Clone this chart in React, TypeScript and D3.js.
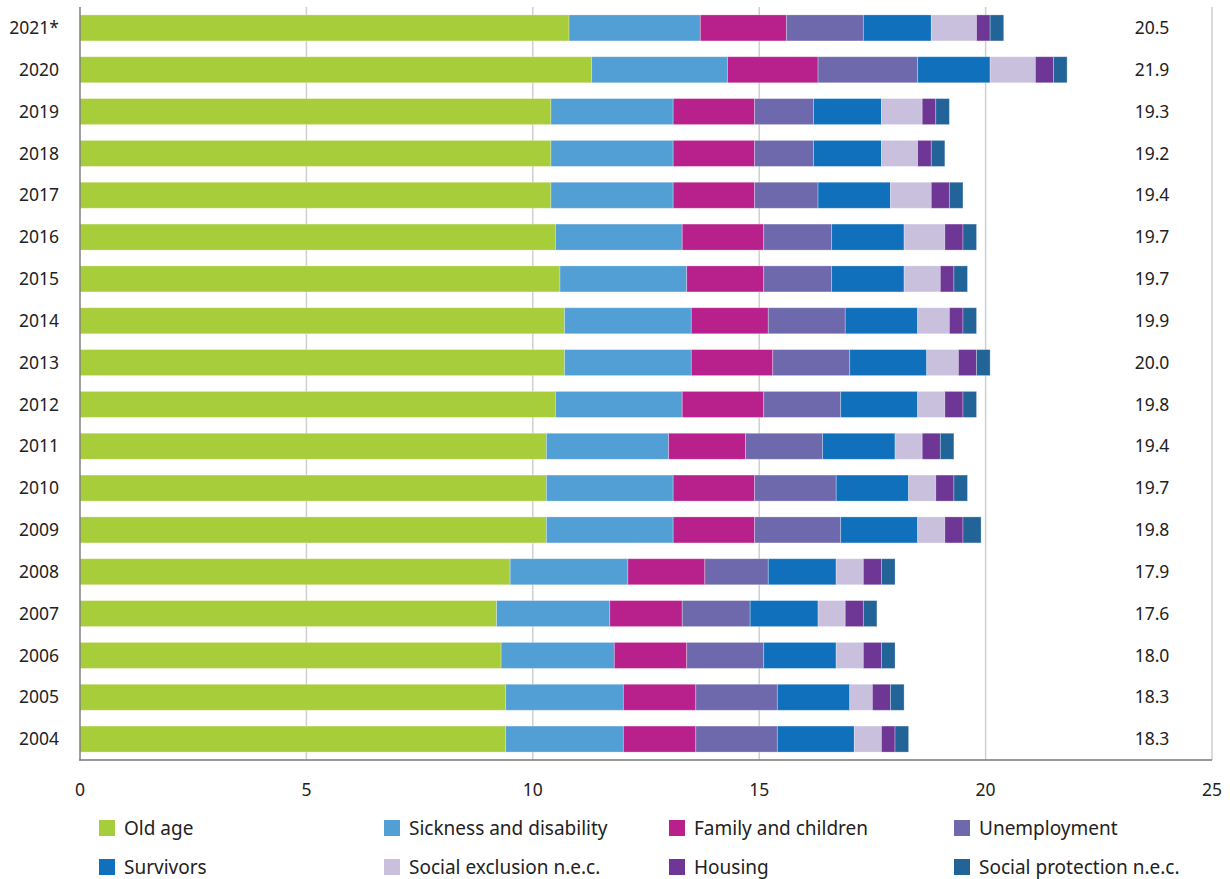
import React from "react";
import * as d3 from "d3";

const years = ["2021*", "2020", "2019", "2018", "2017", "2016", "2015", "2014", "2013", "2012", "2011", "2010", "2009", "2008", "2007", "2006", "2005", "2004"];
const totals = ["20.5", "21.9", "19.3", "19.2", "19.4", "19.7", "19.7", "19.9", "20.0", "19.8", "19.4", "19.7", "19.8", "17.9", "17.6", "18.0", "18.3", "18.3"];

const seriesNames = ["Old age", "Sickness and disability", "Family and children", "Unemployment", "Survivors", "Social exclusion n.e.c.", "Housing", "Social protection n.e.c."];
const seriesColors = ["#a8cd3a", "#529fd6", "#b8218c", "#6e69ad", "#1170bb", "#c9c0de", "#6e3795", "#236498"];

const oldAge = [10.8, 11.3, 10.4, 10.4, 10.4, 10.5, 10.6, 10.7, 10.7, 10.5, 10.3, 10.3, 10.3, 9.5, 9.2, 9.3, 9.4, 9.4];
const sickness = [2.9, 3.0, 2.7, 2.7, 2.7, 2.8, 2.8, 2.8, 2.8, 2.8, 2.7, 2.8, 2.8, 2.6, 2.5, 2.5, 2.6, 2.6];
const family = [1.9, 2.0, 1.8, 1.8, 1.8, 1.8, 1.7, 1.7, 1.8, 1.8, 1.7, 1.8, 1.8, 1.7, 1.6, 1.6, 1.6, 1.6];
const unemployment = [1.7, 2.2, 1.3, 1.3, 1.4, 1.5, 1.5, 1.7, 1.7, 1.7, 1.7, 1.8, 1.9, 1.4, 1.5, 1.7, 1.8, 1.8];
const survivors = [1.5, 1.6, 1.5, 1.5, 1.6, 1.6, 1.6, 1.6, 1.7, 1.7, 1.6, 1.6, 1.7, 1.5, 1.5, 1.6, 1.6, 1.7];
const socialExclusion = [1.0, 1.0, 0.9, 0.8, 0.9, 0.9, 0.8, 0.7, 0.7, 0.6, 0.6, 0.6, 0.6, 0.6, 0.6, 0.6, 0.5, 0.6];
const housing = [0.3, 0.4, 0.3, 0.3, 0.4, 0.4, 0.3, 0.3, 0.4, 0.4, 0.4, 0.4, 0.4, 0.4, 0.4, 0.4, 0.4, 0.3];
const socialProtection = [0.3, 0.3, 0.3, 0.3, 0.3, 0.3, 0.3, 0.3, 0.3, 0.3, 0.3, 0.3, 0.4, 0.3, 0.3, 0.3, 0.3, 0.3];

const xTicks = [0, 5, 10, 15, 20, 25];

const W = 1230;
const H = 879;
const FONT = "'Noto Sans', sans-serif";
const TEXT = "#222";

export default function App() {
  const seriesArrays = [oldAge, sickness, family, unemployment, survivors, socialExclusion, housing, socialProtection];
  const rows = years.map((y, i) => {
    const r: any = { year: y };
    seriesNames.forEach((s, k) => (r[s] = seriesArrays[k][i]));
    return r;
  });
  const stacked = d3.stack<any>().keys(seriesNames)(rows);

  const x = d3.scaleLinear().domain([0, 25]).range([80, 1212]);
  const y = d3.scaleBand<string>().domain(years).range([7, 760]).paddingInner(0.378).paddingOuter(0.189);

  const legendCols = [99, 384, 669, 954];
  const legendRows = [820, 859];

  return (
    <svg width={W} height={H} style={{ position: "absolute", left: 0, top: 0 }} fontFamily={FONT}>
      <rect width={W} height={H} fill="#fff" />
      {xTicks.slice(1).map((t) => (
        <line key={t} x1={x(t)} x2={x(t)} y1={7} y2={760} stroke="#cfcfcf" strokeWidth={1.5} />
      ))}
      {stacked.map((layer, k) => (
        <g key={layer.key} fill={seriesColors[k]}>
          {layer.map((d, i) => (
            <rect
              key={i}
              x={x(d[0])}
              y={y(years[i])}
              width={x(d[1]) - x(d[0])}
              height={y.bandwidth()}
              stroke="#ffffff"
              strokeOpacity={0.35}
              strokeWidth={0.8}
            />
          ))}
        </g>
      ))}
      <line x1={80} x2={80} y1={7} y2={760.5} stroke="#777" strokeWidth={1.4} />
      <line x1={79.3} x2={1212} y1={760} y2={760} stroke="#777" strokeWidth={1.4} />
      {years.map((yr, i) => (
        <text key={yr} x={59} y={(y(yr) as number) + y.bandwidth() / 2} dy="0.35em" textAnchor="end" fontSize={17.5} fill={TEXT}>
          {yr}
        </text>
      ))}
      {years.map((yr, i) => (
        <text key={"t" + yr} x={1152} y={(y(yr) as number) + y.bandwidth() / 2} dy="0.35em" textAnchor="middle" fontSize={17.5} fill={TEXT}>
          {totals[i]}
        </text>
      ))}
      {xTicks.map((t) => (
        <text key={"x" + t} x={x(t)} y={796} textAnchor="middle" fontSize={17.5} fill={TEXT}>
          {t}
        </text>
      ))}
      {seriesNames.map((s, k) => {
        const cx = legendCols[k % 4];
        const cy = legendRows[Math.floor(k / 4)];
        return (
          <g key={s}>
            <rect x={cx} y={cy} width={16} height={16} fill={seriesColors[k]} />
            <text x={cx + 25} y={cy + 8} dy="0.35em" fontSize={19} fill={TEXT}>
              {s}
            </text>
          </g>
        );
      })}
    </svg>
  );
}
